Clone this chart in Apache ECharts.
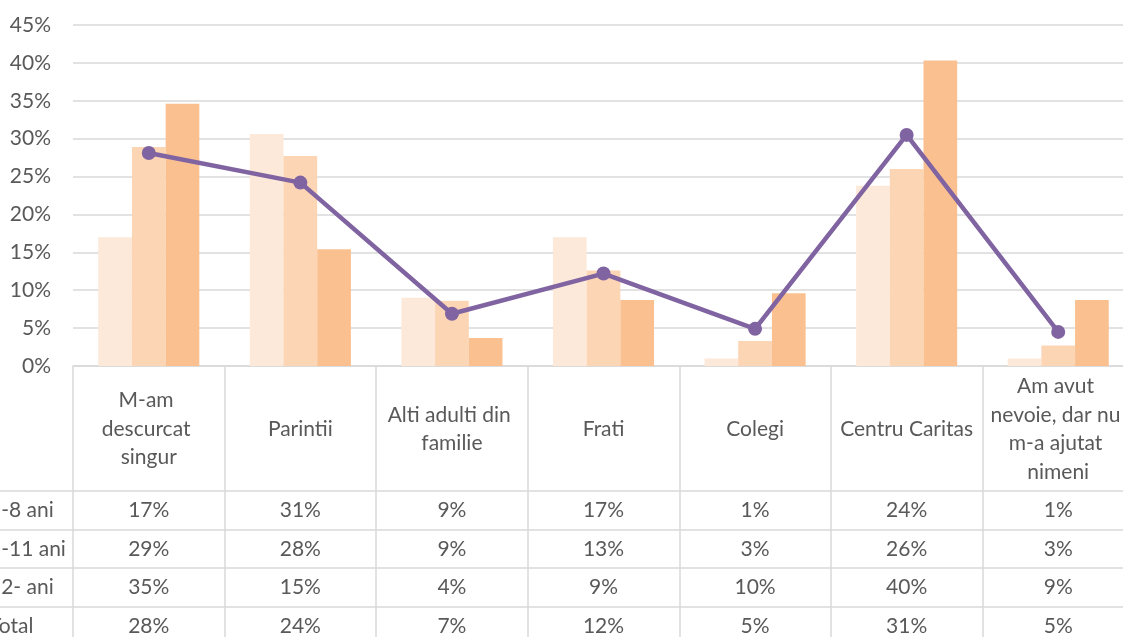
<!DOCTYPE html>
<html>
<head>
<meta charset="utf-8">
<script src="https://cdn.jsdelivr.net/npm/echarts@6/dist/echarts.min.js"></script>
<style>
  html, body { margin: 0; padding: 0; background: #fff; }
  #chart { width: 1123px; height: 637px; }
</style>
</head>
<body>
<div id="chart"></div>
<script>
// categorii (axa X) si randurile tabelului de date
const categories = ['M-am descurcat singur', 'Parintii', 'Alti adulti din familie', 'Frati', 'Colegi', 'Centru Caritas', 'Am avut nevoie, dar nu m-a ajutat nimeni'];
const rowNames = ['5-8 ani', '9-11 ani', '12- ani', 'Total'];

// valori in procente
const ani5_8 = [17.0, 30.6, 9.0, 17.0, 1.0, 23.8, 1.0];
const ani9_11 = [28.9, 27.7, 8.6, 12.6, 3.3, 26.0, 2.7];
const ani12 = [34.6, 15.4, 3.7, 8.7, 9.6, 40.3, 8.7];
const total = [28.1, 24.2, 6.9, 12.2, 4.9, 30.5, 4.5];

const yTicks = [0, 5, 10, 15, 20, 25, 30, 35, 40, 45];

const FONT = 'Lato';
const TXT = '#595959';
const LINE = '#d9d9d9';

const allRows = [ani5_8, ani9_11, ani12, total];
const tableData = [];
allRows.forEach((row, r) => {
    row.forEach((v, i) => tableData.push([i, r, Math.round(v)]));
});

const chart = echarts.init(document.getElementById('chart'), null, { renderer: 'canvas' });

const barStyle = {
    type: 'bar',
    barGap: '0%',
    barCategoryGap: '33.3%',
    xAxisIndex: 0,
    yAxisIndex: 0
};

chart.setOption({
    animation: false,
    backgroundColor: '#fff',
    textStyle: { fontFamily: FONT },
    grid: [
        { left: 73, top: 25, width: 1061, height: 341, outerBoundsMode: 'none', containLabel: false },
        { left: 73, top: 491, width: 1061, height: 154, outerBoundsMode: 'none', containLabel: false }
    ],
    xAxis: [{
        type: 'category',
        gridIndex: 0,
        data: categories,
        axisLine: { show: true, lineStyle: { color: LINE, width: 1.5 } },
        axisTick: { show: true, length: 279, lineStyle: { color: LINE, width: 1.5 } },
        axisLabel: {
            interval: 0,
            color: TXT,
            fontSize: 21,
            fontFamily: FONT,
            width: 142,
            overflow: 'break',
            lineHeight: 28.5,
            align: 'center',
            verticalAlign: 'middle',
            margin: 63
        },
        splitLine: { show: false }
    }, {
        type: 'category',
        gridIndex: 1,
        data: categories,
        show: false
    }],
    yAxis: [{
        type: 'value',
        gridIndex: 0,
        min: 0,
        max: 45,
        interval: 5,
        axisLine: { show: false },
        axisTick: { show: false },
        axisLabel: {
            color: TXT,
            fontSize: 21,
            fontFamily: FONT,
            margin: 22,
            formatter: v => yTicks.includes(v) ? v + '%' : ''
        },
        splitLine: { lineStyle: { color: LINE, width: 1.5 } }
    }, {
        type: 'category',
        gridIndex: 1,
        data: rowNames,
        inverse: true,
        axisLine: { show: false },
        axisTick: { show: true, length: 85, lineStyle: { color: LINE, width: 1.5 } },
        axisLabel: {
            color: TXT,
            fontSize: 21,
            fontFamily: FONT,
            align: 'left',
            margin: 84
        },
        splitLine: { show: true, lineStyle: { color: LINE, width: 1.5 } }
    }],
    series: [
        Object.assign({ name: '5-8 ani', data: ani5_8, itemStyle: { color: '#FDE9D9' } }, barStyle),
        Object.assign({ name: '9-11 ani', data: ani9_11, itemStyle: { color: '#FCD5B5' } }, barStyle),
        Object.assign({ name: '12- ani', data: ani12, itemStyle: { color: '#FAC090' } }, barStyle),
        {
            name: 'Total',
            type: 'line',
            data: total,
            xAxisIndex: 0,
            yAxisIndex: 0,
            symbol: 'circle',
            symbolSize: 14,
            z: 5,
            lineStyle: { color: '#8064A2', width: 4.5 },
            itemStyle: { color: '#8064A2' }
        },
        {
            // valorile din tabelul de date
            name: 'tabel',
            type: 'custom',
            xAxisIndex: 1,
            yAxisIndex: 1,
            data: tableData,
            encode: { x: 0, y: 1 },
            renderItem: function (params, api) {
                const p = api.coord([api.value(0), api.value(1)]);
                return {
                    type: 'text',
                    x: p[0],
                    y: p[1],
                    style: {
                        text: api.value(2) + '%',
                        align: 'center',
                        verticalAlign: 'middle',
                        fill: TXT,
                        fontSize: 21,
                        fontFamily: FONT
                    }
                };
            }
        }
    ]
});
</script>
</body>
</html>
